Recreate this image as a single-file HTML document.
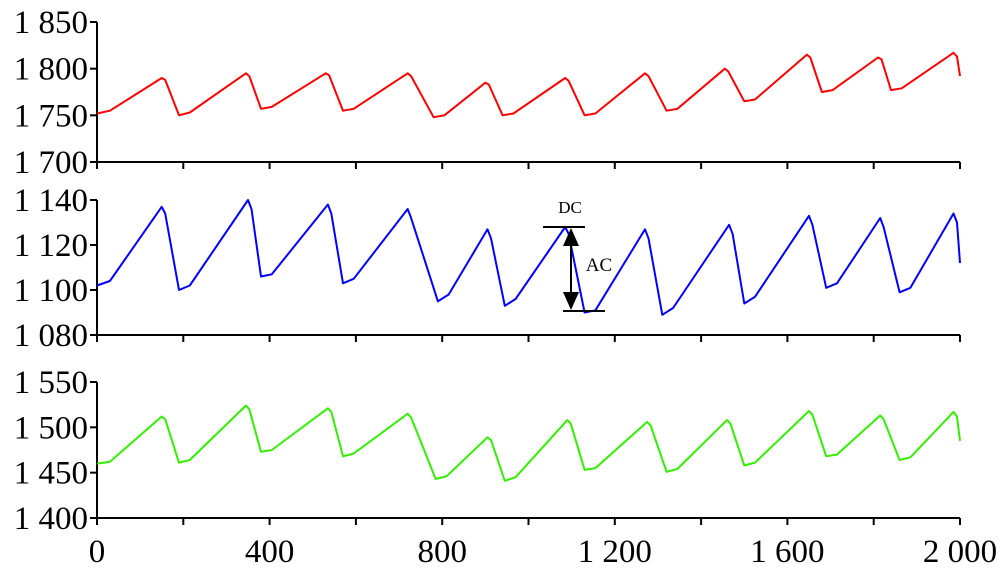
<!DOCTYPE html>
<html><head><meta charset="utf-8"><style>
body{margin:0;background:#fff}
svg text{font-family:"Liberation Serif",serif;fill:#000}
</style></head><body>
<svg id="c" width="1000" height="575"></svg>
<script>
const xTicks=[0,400,800,1200,1600,2000];
const xTickLabels=["0","400","800","1 200","1 600","2 000"];
const redX=[0,30,150,158,190,215,345,353,380,405,530,538,570,595,720,728,780,805,900,908,940,965,1085,1093,1130,1155,1270,1278,1320,1345,1455,1463,1500,1525,1645,1653,1680,1705,1810,1818,1840,1865,1985,1993,2000];
const redY=[1752,1755,1790,1788,1750,1753,1795,1792,1757,1759,1795,1793,1755,1757,1795,1792,1748,1750,1785,1783,1750,1752,1790,1787,1750,1752,1795,1792,1755,1757,1800,1797,1765,1767,1815,1812,1775,1777,1812,1810,1777,1779,1817,1813,1792];
const blueX=[0,30,150,158,190,215,350,358,380,405,535,543,570,595,720,728,790,815,905,913,945,970,1085,1093,1130,1155,1270,1278,1310,1335,1465,1473,1500,1525,1650,1658,1690,1715,1815,1823,1860,1885,1985,1993,2000];
const blueY=[1102,1104,1137,1134,1100,1102,1140,1136,1106,1107,1138,1134,1103,1105,1136,1132,1095,1098,1127,1123,1093,1096,1128,1125,1090,1091,1127,1123,1089,1092,1129,1125,1094,1097,1133,1129,1101,1103,1132,1128,1099,1101,1134,1130,1112];
const greenX=[0,30,150,158,190,215,345,353,380,405,535,543,570,595,720,728,785,810,905,913,945,970,1090,1098,1130,1155,1275,1283,1320,1345,1460,1468,1500,1525,1650,1658,1690,1715,1815,1823,1860,1885,1985,1993,2000];
const greenY=[1460,1462,1512,1509,1461,1464,1524,1520,1473,1475,1521,1517,1468,1471,1515,1511,1443,1446,1489,1486,1441,1445,1508,1504,1453,1455,1506,1502,1451,1454,1508,1504,1458,1461,1518,1514,1468,1470,1513,1509,1464,1467,1517,1512,1485];
const panels=[
 {name:"red",ticks:[1700,1750,1800,1850],labels:["1 700","1 750","1 800","1 850"],top:22,bot:162,xs:redX,ys:redY,color:"#ff0000"},
 {name:"blue",ticks:[1080,1100,1120,1140],labels:["1 080","1 100","1 120","1 140"],top:200,bot:335,xs:blueX,ys:blueY,color:"#0000ff"},
 {name:"green",ticks:[1400,1450,1500,1550],labels:["1 400","1 450","1 500","1 550"],top:382,bot:518,xs:greenX,ys:greenY,color:"#33ee00"}
];
const svg=document.getElementById('c');const NS="http://www.w3.org/2000/svg";
function mk(t,a){const e=document.createElementNS(NS,t);for(const k in a)e.setAttribute(k,a[k]);svg.appendChild(e);return e;}
const X0=97,X1=960;const sx=v=>X0+(v/2000)*(X1-X0);
panels.forEach((p,i)=>{
 const lo=p.ticks[0],hi=p.ticks[p.ticks.length-1];
 const sy=v=>p.bot-(v-lo)/(hi-lo)*(p.bot-p.top);
 let e=mk('line',{x1:X0,y1:p.top,x2:X0,y2:p.bot,stroke:'#000','stroke-width':2});
 
 e=mk('line',{x1:X0,y1:p.bot,x2:X1,y2:p.bot,stroke:'#000','stroke-width':2});
 
 for(let v=0;v<=2000;v+=200){e=mk('line',{x1:sx(v),y1:p.bot,x2:sx(v),y2:p.bot+7,stroke:'#000','stroke-width':2});
 }
 p.ticks.forEach((t,j)=>{
  e=mk('line',{x1:X0-7,y1:sy(t),x2:X0,y2:sy(t),stroke:'#000','stroke-width':2});
  
  e=mk('text',{x:X0-9,y:sy(t)+11,'text-anchor':'end','font-size':33});e.textContent=p.labels[j];
  
 });
 const pts=p.xs.map((x,j)=>sx(x).toFixed(1)+','+sy(p.ys[j]).toFixed(1)).join(' ');
 e=mk('polyline',{points:pts,fill:'none',stroke:p.color,'stroke-width':2,'stroke-linejoin':'round'});
 
});
xTicks.forEach((t,j)=>{const e=mk('text',{x:sx(t),y:562,'text-anchor':'middle','font-size':33});e.textContent=xTickLabels[j];
 });
let e=mk('line',{x1:543,y1:227,x2:585,y2:227,stroke:'#000','stroke-width':2});
e=mk('line',{x1:563,y1:311,x2:605,y2:311,stroke:'#000','stroke-width':2});
e=mk('line',{x1:571,y1:240,x2:571,y2:298,stroke:'#000','stroke-width':2});
e=mk('polygon',{points:'571,228 563,246 579,246',fill:'#000'});
e=mk('polygon',{points:'571,310 563,292 579,292',fill:'#000'});
e=mk('text',{x:570,y:213,'text-anchor':'middle','font-size':17});e.textContent='DC';
e=mk('text',{x:599,y:271,'text-anchor':'middle','font-size':19});e.textContent='AC';
</script>
</body></html>
